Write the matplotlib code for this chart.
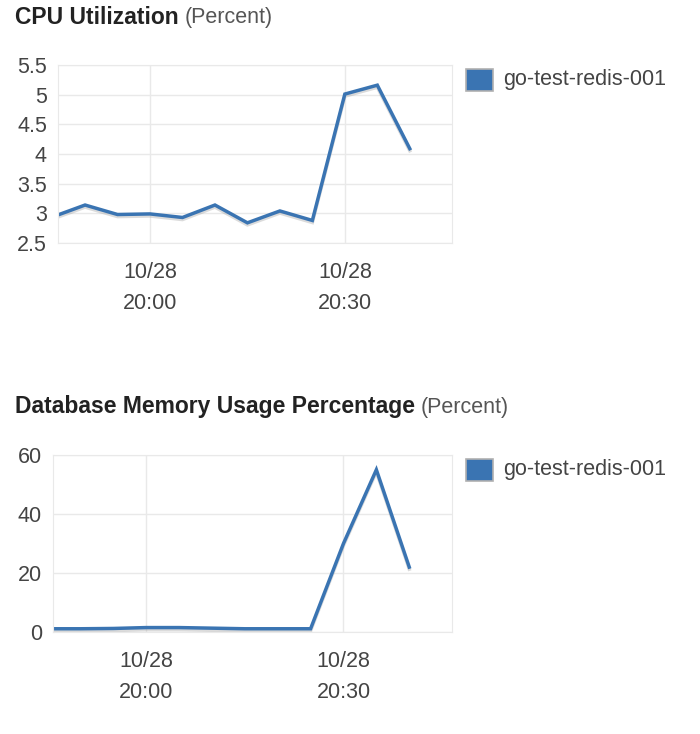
import matplotlib
matplotlib.use("Agg")
import matplotlib.pyplot as plt
import matplotlib.dates as mdates
import matplotlib.patheffects as pe
import pandas as pd

# data (5 minute samples)
times = pd.date_range("2019-10-28 19:45", periods=12, freq="5min")
cpu = [2.94, 3.14, 2.98, 2.99, 2.93, 3.14, 2.84, 3.04, 2.88, 5.01, 5.16, 4.09]
mem = [1.1, 1.1, 1.2, 1.5, 1.5, 1.3, 1.1, 1.1, 1.1, 30.0, 55.0, 22.0]
series_name = "go-test-redis-001"
xticks = pd.to_datetime(["2019-10-28 20:00", "2019-10-28 20:30"])
xlim = pd.to_datetime(["2019-10-28 19:45:50", "2019-10-28 20:46:30"])

plt.rcParams["font.family"] = ["Liberation Sans", "DejaVu Sans"]

line_color = "#3a74b2"
grid_color = "#e9e9e9"
text_color = "#444444"
fs = 15.5

fig = plt.figure(figsize=(7.0, 7.34), dpi=100)


def rect_top_px(rect):
    return (1 - rect[1] - rect[3]) * 734


def panel(rect, y, yticks, ylabels, ylim, title, title_y):
    ax = fig.add_axes(rect)
    ax.plot(times, y, color=line_color, lw=2.5, solid_joinstyle="miter",
            path_effects=[pe.SimpleLineShadow(offset=(0, -1.5), shadow_color="#999999", alpha=0.35),
                          pe.Normal()])
    ax.set_xlim(xlim)
    ax.set_ylim(ylim)
    ax.set_yticks(yticks)
    ax.set_yticklabels(ylabels)
    ax.set_xticks(xticks)
    ax.xaxis.set_major_formatter(mdates.DateFormatter("%m/%d\n%H:%M"))
    ax.grid(True, color=grid_color, lw=1)
    ax.set_axisbelow(True)
    for s in ax.spines.values():
        s.set_color(grid_color)
    ax.tick_params(length=0, labelsize=fs, colors=text_color)
    ax.tick_params(axis="y", pad=8)
    ax.tick_params(axis="x", pad=14)
    for lbl in ax.get_xticklabels():
        lbl.set_linespacing(1.6)
    # legend box + text outside the plot
    top = rect_top_px(rect)
    fig.patches.append(plt.Rectangle((466 / 700, 1 - (top + 26) / 734), 27 / 700, 22 / 734,
                                     transform=fig.transFigure, facecolor=line_color,
                                     edgecolor="#b0b0b0", lw=1.2))
    fig.text(503 / 700, 1 - (top + 15) / 734, series_name, fontsize=fs,
             color=text_color, va="center", ha="left")
    # title
    t = fig.text(15 / 700, 1 - title_y / 734, title, fontsize=16.5, fontweight="bold",
                 color="#222222", va="center", ha="left")
    fig.canvas.draw()
    bb = t.get_window_extent()
    fig.text((bb.x1 + 6) / 700, 1 - title_y / 734, "(Percent)", fontsize=15.5,
             color="#555555", va="center", ha="left")
    return ax


panel([58 / 700, 1 - 243 / 734, 394 / 700, 178 / 734], cpu,
      [2.5, 3, 3.5, 4, 4.5, 5, 5.5], ["2.5", "3", "3.5", "4", "4.5", "5", "5.5"],
      (2.5, 5.5), "CPU Utilization", 18)

panel([53 / 700, 1 - 632 / 734, 399 / 700, 177 / 734], mem,
      [0, 20, 40, 60], ["0", "20", "40", "60"],
      (0, 60), "Database Memory Usage Percentage", 407)

fig.savefig("out.png", dpi=100, facecolor="white")
